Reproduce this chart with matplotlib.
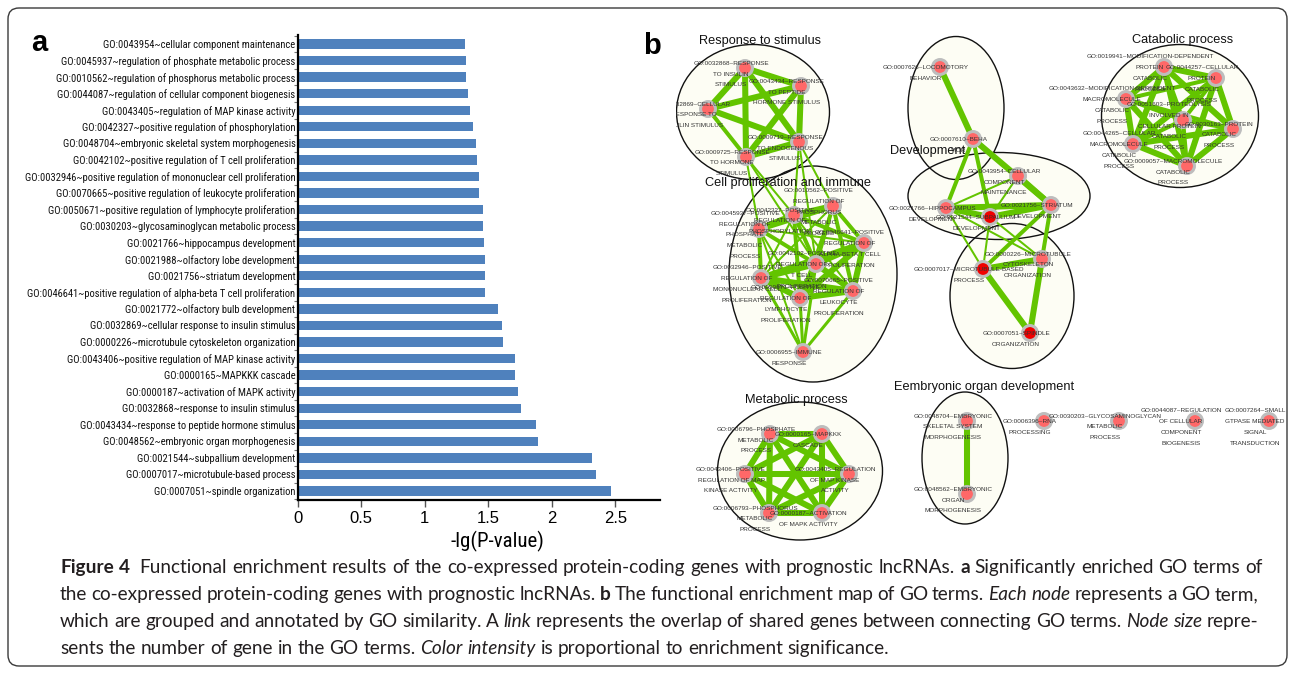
import matplotlib
matplotlib.use("Agg")
import matplotlib.pyplot as plt
import numpy as np
from matplotlib import font_manager
from matplotlib.font_manager import FontProperties
from matplotlib.patches import Ellipse, FancyBboxPatch

W, H = 1295, 674


def pick_font(*names):
    # first installed family of the list
    for name in names:
        try:
            font_manager.findfont(FontProperties(family=name),
                                  fallback_to_default=False)
            return name
        except ValueError:
            pass
    return "DejaVu Sans"


def narrow_font_file():
    # look for an installed narrow / condensed sans face (regular weight)
    prefs = ["liberation sans narrow", "arial narrow", "roboto condensed",
             "noto sans", "open sans", "dejavu sans"]
    found = []
    for f in font_manager.fontManager.ttflist:
        fn = f.fname.lower()
        if not ("narrow" in fn or "condensed" in fn or "semicondensed" in fn):
            continue
        if f.style != "normal" or f.weight not in (400, "normal", "regular"):
            continue
        if "mono" in fn or "serif" in fn.replace("sans", ""):
            continue
        name = f.name.lower()
        rank = len(prefs)
        for i, p in enumerate(prefs):
            if p in name or p.replace(" ", "") in fn:
                rank = i
                break
        if "semicondensed" in fn or "semi" in fn:
            rank += 0.5
        found.append((rank, f.fname))
    if found:
        found.sort()
        return found[0][1]
    return None


ARIAL = pick_font("Liberation Sans", "DejaVu Sans")
NARROW_FILE = narrow_font_file()
CAPTION_FONT = pick_font("Lato", "Noto Sans")


def narrow_fp(size):
    if NARROW_FILE:
        return FontProperties(fname=NARROW_FILE, size=size)
    return FontProperties(family=ARIAL, size=size)


# ---------------- panel a data ----------------
GO_TERMS = [
    "GO:0043954~cellular component maintenance",
    "GO:0045937~regulation of phosphate metabolic process",
    "GO:0010562~regulation of phosphorus metabolic process",
    "GO:0044087~regulation of cellular component biogenesis",
    "GO:0043405~regulation of MAP kinase activity",
    "GO:0042327~positive regulation of phosphorylation",
    "GO:0048704~embryonic skeletal system morphogenesis",
    "GO:0042102~positive regulation of T cell proliferation",
    "GO:0032946~positive regulation of mononuclear cell proliferation",
    "GO:0070665~positive regulation of leukocyte proliferation",
    "GO:0050671~positive regulation of lymphocyte proliferation",
    "GO:0030203~glycosaminoglycan metabolic process",
    "GO:0021766~hippocampus development",
    "GO:0021988~olfactory lobe development",
    "GO:0021756~striatum development",
    "GO:0046641~positive regulation of alpha-beta T cell proliferation",
    "GO:0021772~olfactory bulb development",
    "GO:0032869~cellular response to insulin stimulus",
    "GO:0000226~microtubule cytoskeleton organization",
    "GO:0043406~positive regulation of MAP kinase activity",
    "GO:0000165~MAPKKK cascade",
    "GO:0000187~activation of MAPK activity",
    "GO:0032868~response to insulin stimulus",
    "GO:0043434~response to peptide hormone stimulus",
    "GO:0048562~embryonic organ morphogenesis",
    "GO:0021544~subpallium development",
    "GO:0007017~microtubule-based process",
    "GO:0007051~spindle organization",
]
NEG_LOG_P = [1.318, 1.321, 1.325, 1.338, 1.354, 1.381, 1.404, 1.414, 1.430,
             1.430, 1.460, 1.460, 1.464, 1.477, 1.477, 1.477, 1.576, 1.609,
             1.616, 1.709, 1.712, 1.732, 1.755, 1.874, 1.894, 2.318, 2.344,
             2.467]
X_TICKS = [0, 0.5, 1, 1.5, 2, 2.5]
X_TICK_LABELS = ["0", "0.5", "1", "1.5", "2", "2.5"]

# ---------------- panel b data (enrichment map layout) ----------------
NODE_ID = ["N1", "N2", "N3", "N4", "N5",
           "C1", "C2", "C3", "C4", "C5", "C6", "C7", "C8", "C9",
           "D1", "D2", "D3", "D4", "D5", "D6", "D7", "D8", "D9",
           "K1", "K2", "K3", "K4", "K5", "K6", "K7",
           "M1", "M2", "M3", "M4", "M5", "M6",
           "E1", "E2", "S1", "S2", "S3", "S4"]
NODE_X = [745, 801, 708, 799, 746,
          833, 794, 759, 864, 816, 761, 853, 800, 803,
          940, 973, 1018, 1051, 946, 990, 1042, 983, 1030,
          1164, 1216, 1126, 1183, 1233, 1133, 1187,
          770, 822, 745, 849, 769, 822,
          967, 967, 1044, 1119, 1195, 1269]
NODE_Y = [68, 86, 109, 142, 157,
          206, 215, 229, 243, 264, 278, 291, 298, 352,
          67, 139, 176, 205, 208, 217, 259, 269, 333,
          67, 78, 99, 120, 129, 144, 166,
          434, 434, 474, 474, 513, 513,
          421, 494, 421, 421, 421, 421]
NODE_LABEL = [
    "GO:0032868~RESPONSE|TO INSULIN|STIMULUS",
    "GO:0043434~RESPONSE|TO PEPTIDE|HORMONE STIMULUS",
    "GO:0032869~CELLULAR|RESPONSE TO|INSULIN STIMULUS",
    "GO:0009719~RESPONSE|TO ENDOGENOUS|STIMULUS",
    "GO:0009725~RESPONSE|TO HORMONE|STIMULUS",
    "GO:0010562~POSITIVE|REGULATION OF|PHOSPHORUS|METABOLIC|PROCESS",
    "GO:0042327~POSITIVE|REGULATION OF|PHOSPHORYLATION",
    "GO:0045937~POSITIVE|REGULATION OF|PHOSPHATE|METABOLIC|PROCESS",
    "GO:0046641~POSITIVE|REGULATION OF|ALPHA-BETA T CELL|PROLIFERATION",
    "GO:0042102~POSITIVE|REGULATION OF|T CELL|PROLIFERATION",
    "GO:0032946~POSITIVE|REGULATION OF|MONONUCLEAR CELL|PROLIFERATION",
    "GO:0070665~POSITIVE|REGULATION OF|LEUKOCYTE|PROLIFERATION",
    "GO:0050671~POSITIVE|REGULATION OF|LYMPHOCYTE|PROLIFERATION",
    "GO:0006955~IMMUNE|RESPONSE",
    "GO:0007626~LOCOMOTORY|BEHAVIOR",
    "GO:0007610~BEHA|VIOR",
    "GO:0043954~CELLULAR|COMPONENT|MAINTENANCE",
    "GO:0021756~STRIATUM|DEVELOPMENT",
    "GO:0021766~HIPPOCAMPUS|DEVELOPMENT",
    "GO:0021544~SUBPALLIUM|DEVELOPMENT",
    "GO:0000226~MICROTUBULE|CYTOSKELETON|ORGANIZATION",
    "GO:0007017~MICROTUBULE-BASED|PROCESS",
    "GO:0007051~SPINDLE|ORGANIZATION",
    "GO:0019941~MODIFICATION-DEPENDENT|PROTEIN|CATABOLIC|PROCESS",
    "GO:0044257~CELLULAR|PROTEIN|CATABOLIC|PROCESS",
    "GO:0043632~MODIFICATION-DEPENDENT|MACROMOLECULE|CATABOLIC|PROCESS",
    "GO:0051603~PROTEOLYSIS|INVOLVED IN|CELLULAR PROTEIN|CATABOLIC|PROCESS",
    "GO:0030163~PROTEIN|CATABOLIC|PROCESS",
    "GO:0044265~CELLULAR|MACROMOLECULE|CATABOLIC|PROCESS",
    "GO:0009057~MACROMOLECULE|CATABOLIC|PROCESS",
    "GO:0006796~PHOSPHATE|METABOLIC|PROCESS",
    "GO:0000165~MAPKKK|CASCADE",
    "GO:0043406~POSITIVE|REGULATION OF MAP|KINASE ACTIVITY",
    "GO:0043405~REGULATION|OF MAP KINASE|ACTIVITY",
    "GO:0006793~PHOSPHORUS|METABOLIC|PROCESS",
    "GO:0000187~ACTIVATION|OF MAPK ACTIVITY",
    "GO:0048704~EMBRYONIC|SKELETAL SYSTEM|MORPHOGENESIS",
    "GO:0048562~EMBRYONIC|ORGAN|MORPHOGENESIS",
    "GO:0006396~RNA|PROCESSING",
    "GO:0030203~GLYCOSAMINOGLYCAN|METABOLIC|PROCESS",
    "GO:0044087~REGULATION|OF CELLULAR|COMPONENT|BIOGENESIS",
    "GO:0007264~SMALL|GTPASE MEDIATED|SIGNAL|TRANSDUCTION",
]
STRONG_NODES = ["D6", "D8", "D9"]

EDGES = [
    ("N1", "N2", 3), ("N1", "N3", 3), ("N1", "N4", 3), ("N1", "N5", 3),
    ("N2", "N3", 3), ("N2", "N4", 3), ("N2", "N5", 3), ("N3", "N4", 3),
    ("N3", "N5", 2), ("N4", "N5", 3),
    ("N5", "C3", 1), ("N5", "C2", 1), ("N5", "C5", 1), ("N4", "C2", 1),
    ("N4", "C5", 1), ("N4", "C1", 1),
    ("C1", "C2", 3), ("C1", "C3", 3), ("C2", "C3", 3), ("C1", "C4", 2),
    ("C1", "C5", 2), ("C1", "C6", 1), ("C1", "C7", 2), ("C1", "C8", 1),
    ("C2", "C4", 2), ("C2", "C5", 2), ("C2", "C6", 1), ("C2", "C7", 1),
    ("C2", "C8", 2), ("C3", "C5", 2), ("C3", "C6", 2), ("C3", "C8", 1),
    ("C3", "C4", 1), ("C4", "C5", 3), ("C4", "C6", 3), ("C4", "C7", 3),
    ("C4", "C8", 3), ("C5", "C6", 3), ("C5", "C7", 3), ("C5", "C8", 3),
    ("C6", "C7", 3), ("C6", "C8", 3), ("C7", "C8", 3), ("C9", "C6", 1.5),
    ("C9", "C8", 1.5), ("C9", "C5", 1.5), ("C9", "C7", 1.5), ("C9", "C3", 1),
    ("D1", "D2", 3), ("D2", "D5", 2), ("D2", "D6", 2), ("D2", "D4", 3),
    ("D3", "D4", 3), ("D3", "D5", 1), ("D3", "D6", 1), ("D5", "D6", 3),
    ("D5", "D4", 3), ("D6", "D4", 3), ("D5", "D8", 1), ("D5", "D7", 1),
    ("D6", "D8", 1), ("D6", "D7", 1), ("D4", "D8", 2), ("D4", "D7", 2),
    ("D7", "D8", 3), ("D8", "D9", 3), ("D7", "D9", 3),
    ("K1", "K2", 3), ("K1", "K3", 3), ("K1", "K4", 2), ("K1", "K5", 3),
    ("K1", "K6", 3), ("K1", "K7", 3), ("K2", "K3", 2), ("K2", "K4", 2),
    ("K2", "K5", 3), ("K2", "K6", 3), ("K2", "K7", 3), ("K3", "K4", 2),
    ("K3", "K5", 2), ("K3", "K6", 3), ("K3", "K7", 3), ("K4", "K5", 2),
    ("K4", "K6", 2), ("K4", "K7", 2), ("K5", "K6", 3), ("K5", "K7", 3),
    ("K6", "K7", 3),
    ("M1", "M2", 3), ("M1", "M3", 3), ("M1", "M4", 3), ("M1", "M5", 3),
    ("M1", "M6", 3), ("M2", "M3", 3), ("M2", "M4", 3), ("M2", "M5", 3),
    ("M2", "M6", 3), ("M3", "M4", 3), ("M3", "M5", 3), ("M3", "M6", 3),
    ("M4", "M5", 3), ("M4", "M6", 3), ("M5", "M6", 3),
    ("E1", "E2", 3),
]

ELLIPSE_CX = [753, 813, 956, 999, 1012, 1180, 800, 965]
ELLIPSE_CY = [112, 274, 108, 196, 296, 116, 471, 458]
ELLIPSE_W = [153, 168, 96, 182, 124, 157, 165, 86]
ELLIPSE_H = [135, 216, 143, 87, 145, 143, 138, 132]

CLUSTER_TITLE = ["Response to stimulus", "Cell proliferation and immune",
                 "Development", "Catabolic process", "Metabolic process",
                 "Eembryonic organ development"]
TITLE_X = [760, 788, 928, 1183, 796, 984]
TITLE_Y = [41, 183, 151, 40, 400, 387]

CAPTION = [
    [("Figure 4", "bold"),
     ("Functional enrichment results of the co-expressed protein-coding genes with prognostic lncRNAs.", "normal"),
     ("a", "bold"), ("Significantly enriched GO terms of", "normal")],
    [("the co-expressed protein-coding genes with prognostic lncRNAs.", "normal"),
     ("b", "bold"), ("The functional enrichment map of GO terms.", "normal"),
     ("Each node", "italic"), ("represents a GO term,", "normal")],
    [("which are grouped and annotated by GO similarity. A", "normal"),
     ("link", "italic"),
     ("represents the overlap of shared genes between connecting GO terms.", "normal"),
     ("Node size", "italic"), ("repre-", "normal")],
    [("sents the number of gene in the GO terms.", "normal"),
     ("Color intensity", "italic"),
     ("is proportional to enrichment significance.", "normal")],
]

# ---------------- figure ----------------
fig = plt.figure(figsize=(W / 100, H / 100), dpi=100)
fig.patch.set_facecolor("white")

ax_bg = fig.add_axes([0, 0, 1, 1])
ax_bg.set_xlim(0, W)
ax_bg.set_ylim(H, 0)
ax_bg.axis("off")

frame = FancyBboxPatch((8, 8), 1279, 658,
                       boxstyle="round,pad=0,rounding_size=11",
                       fc="none", ec="#3a3a3a", lw=1.0)
ax_bg.add_patch(frame)

# ---- panel a: bar chart ----
ax = fig.add_axes([297.5 / W, (H - 500) / H, (660 - 297.5) / W, (500 - 35) / H])
ax.patch.set_visible(False)
ypos = np.arange(len(GO_TERMS))
ax.barh(ypos, NEG_LOG_P, height=0.56, color="#4f81bd")
ax.set_ylim(len(GO_TERMS) - 0.456, -0.544)
ax.set_xlim(0, 2.85)
ax.set_xticks(X_TICKS)
ax.set_xticklabels(X_TICK_LABELS, family=ARIAL, fontsize=12)
ax.set_yticks(ypos)
ax.set_yticklabels(GO_TERMS, fontproperties=narrow_fp(8.5), color="#111111")
ax.set_yticks(np.arange(len(GO_TERMS) + 1) - 0.5, minor=True)
ax.tick_params(axis="y", which="major", length=0, pad=1.5)
ax.tick_params(axis="y", which="minor", length=3, width=0.8, color="#777777")
ax.tick_params(axis="x", length=5, width=1, pad=3, color="#555555")
for side in ["top", "right"]:
    ax.spines[side].set_visible(False)
for side in ["left", "bottom"]:
    ax.spines[side].set_linewidth(1.6)
    ax.spines[side].set_color("black")
ax_bg.text(497, 541, "-lg(P-value)", fontproperties=narrow_fp(15),
           ha="center", va="center")

fig.canvas.draw()
renderer = fig.canvas.get_renderer()
widest = max(t.get_window_extent(renderer).width for t in ax.get_yticklabels())
for t in ax.get_yticklabels():
    t.set_fontsize(8.5 * 270.0 / widest)

ax_bg.text(39, 51, "a", fontsize=21, fontweight="bold", family=ARIAL,
           ha="center", va="baseline", zorder=10)
ax_bg.text(652, 54, "b", fontsize=21, fontweight="bold", family=ARIAL,
           ha="center", va="baseline", zorder=10)

# ---- panel b: enrichment map ----
ax_b = fig.add_axes([676 / W, (H - 548) / H, (1290 - 676) / W, (548 - 20) / H])
ax_b.set_xlim(676, 1290)
ax_b.set_ylim(548, 20)
ax_b.axis("off")
ax_b.patch.set_visible(False)

for cx, cy, ew, eh in zip(ELLIPSE_CX, ELLIPSE_CY, ELLIPSE_W, ELLIPSE_H):
    ax_b.add_patch(Ellipse((cx, cy), ew, eh, fc="#fdfdf4", ec="none", zorder=1))
for cx, cy, ew, eh in zip(ELLIPSE_CX, ELLIPSE_CY, ELLIPSE_W, ELLIPSE_H):
    ax_b.add_patch(Ellipse((cx, cy), ew, eh, fc="none", ec="#111111", lw=1.0,
                           zorder=1.5))

pos = {n: (x, y) for n, x, y in zip(NODE_ID, NODE_X, NODE_Y)}
for a, b, w in EDGES:
    (x1, y1), (x2, y2) = pos[a], pos[b]
    ax_b.plot([x1, x2], [y1, y2], color="#63c400", lw=1.45 * w,
              solid_capstyle="butt", zorder=2)

node_colors = ["#f00000" if n in STRONG_NODES else "#ff6868" for n in NODE_ID]
ax_b.scatter(NODE_X, NODE_Y, s=115, c=node_colors, edgecolors="#bdbdbd",
             linewidths=2.2, zorder=3)

line_gap = 10.8
for x, y, lab in zip(NODE_X, NODE_Y, NODE_LABEL):
    lines = lab.split("|")
    y0 = y + 6 - (len(lines) - 1) * line_gap / 2
    for i, ln in enumerate(lines):
        ax_b.text(x - 14, y0 + i * line_gap, ln, fontsize=4.6, family=ARIAL,
                  color="#333333", ha="center", va="center", clip_on=True,
                  zorder=4)

for txt, tx, ty in zip(CLUSTER_TITLE, TITLE_X, TITLE_Y):
    ax_b.text(tx, ty, txt, fontsize=9.2, family=ARIAL, ha="center",
              va="center", color="#111111", zorder=6)

# ---- caption ----
def split_tokens(line):
    out = []
    for seg, style in line:
        for word in seg.split(" "):
            out.append((word, style))
    return out


def style_kw(style):
    if style == "bold":
        return {"fontweight": "bold"}
    if style == "italic":
        return {"fontstyle": "italic"}
    return {}


def make_words(tokens, size, yb):
    objs = []
    for word, style in tokens:
        objs.append(ax_bg.text(0, yb, word, fontsize=size, family=CAPTION_FONT,
                               color="#231f20", ha="left", va="baseline",
                               **style_kw(style)))
    return objs


lines_tok = [split_tokens(l) for l in CAPTION]

# fit the font size on the first line
probe = make_words(lines_tok[0], 12, -100)
fig.canvas.draw()
w_sum = sum(o.get_window_extent(renderer).width for o in probe)
nat = w_sum + (len(probe) - 1) * 12 * 100 / 72 * 0.25
for o in probe:
    o.remove()
cap_size = 12 * 1190.0 / nat

baselines = [573, 600, 627, 654]
x_left, x_right = 60, 1258
for k, (toks, yb) in enumerate(zip(lines_tok, baselines)):
    objs = make_words(toks, cap_size, yb)
    widths = [o.get_window_extent(renderer).width for o in objs]
    if k < len(lines_tok) - 1:
        gap = (x_right - x_left - sum(widths)) / (len(objs) - 1)
    else:
        gap = cap_size * 100 / 72 * 0.25
    x = x_left
    for i, (o, wd) in enumerate(zip(objs, widths)):
        o.set_x(x)
        x += wd + gap
        if k == 0 and i == 1:
            x += cap_size * 100 / 72 * 0.25

fig.savefig("out.png", dpi=100, facecolor="white")
